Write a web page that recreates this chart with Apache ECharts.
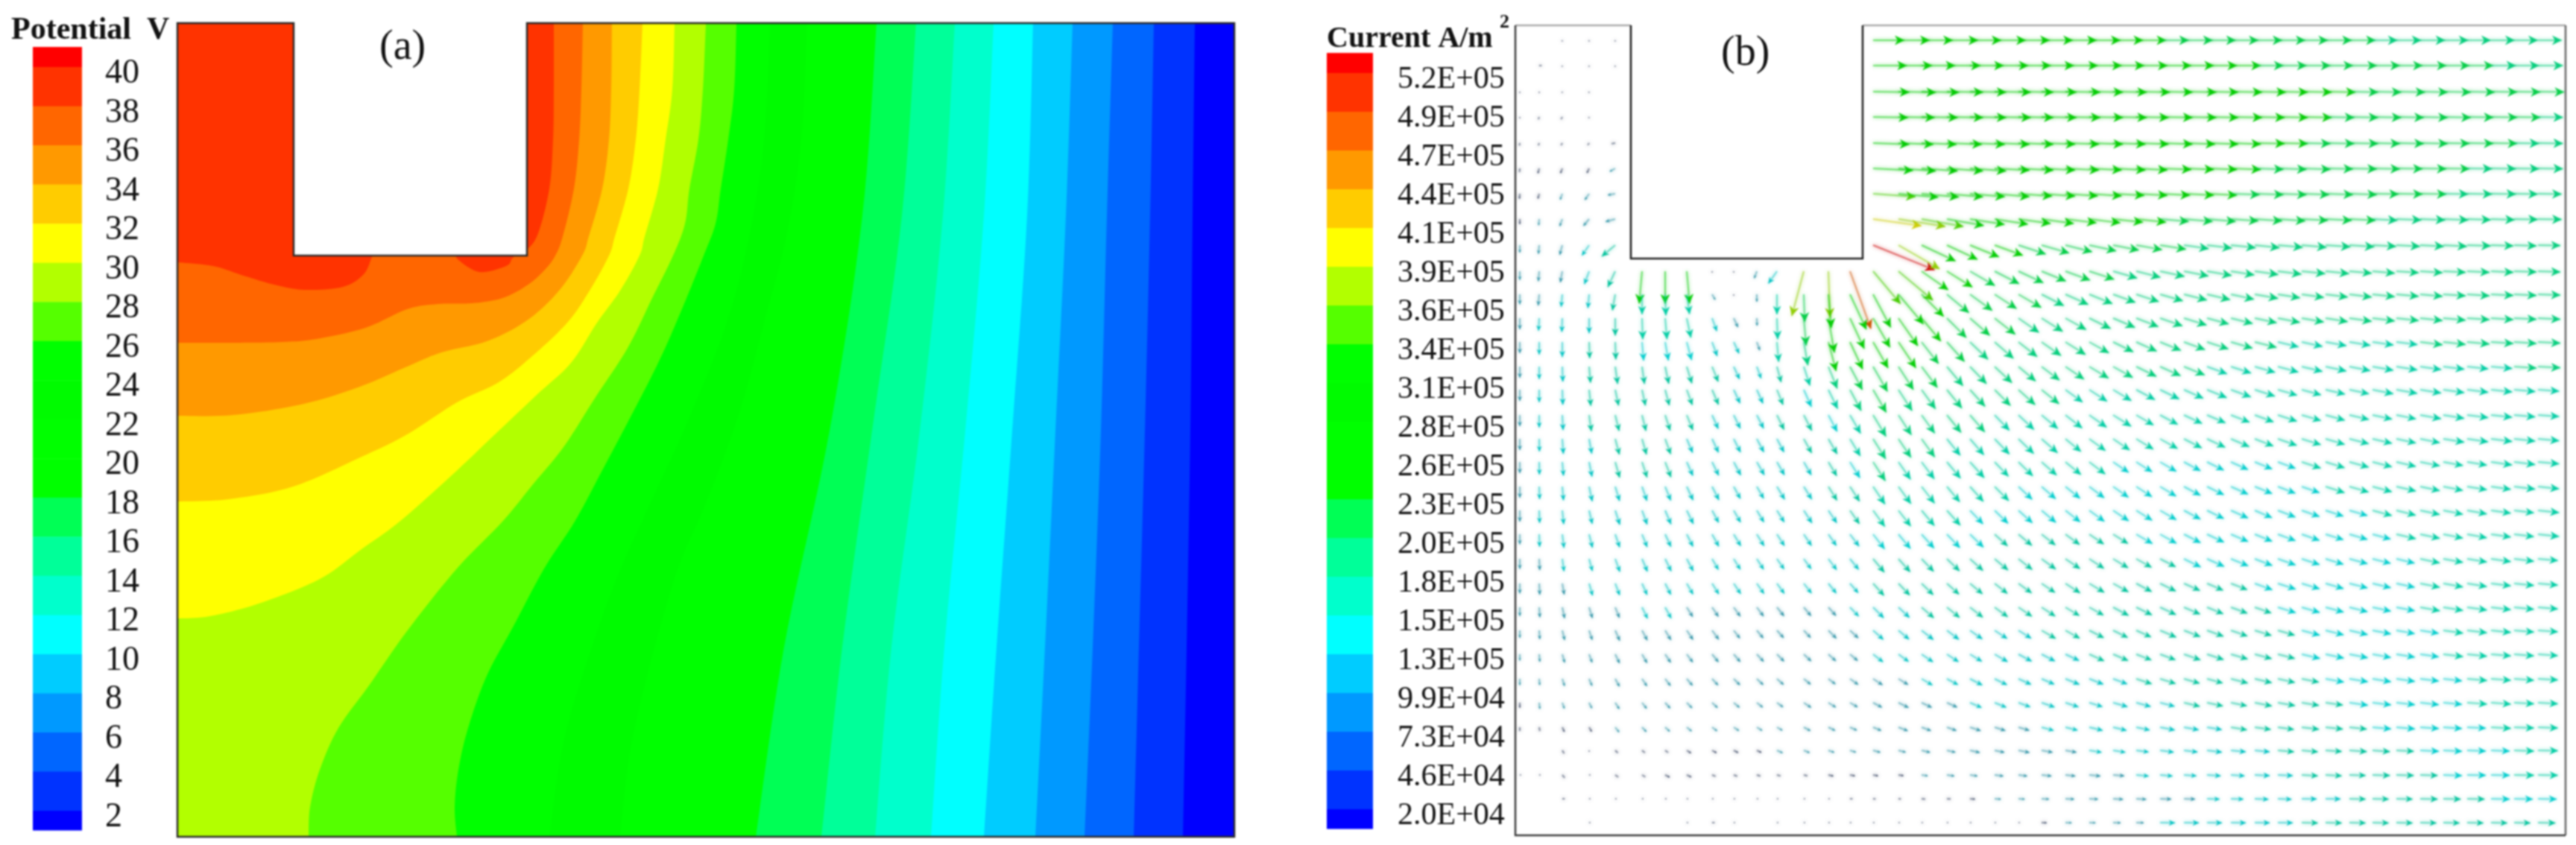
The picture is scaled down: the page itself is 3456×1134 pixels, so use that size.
<!DOCTYPE html>
<html><head><meta charset="utf-8">
<style>html,body{margin:0;padding:0;background:#fff}#c{width:3456px;height:1134px;filter:blur(0.8px)}</style>
<script src="https://cdn.jsdelivr.net/npm/echarts@6/dist/echarts.min.js"></script>
</head><body><div id="c"></div>
<script>
// Colour scale shared by both panels (top of legend to bottom)
const bandColors = ['#ff0000','#ff3300','#ff6600','#ff9900','#ffcc00','#ffff00','#b2ff00','#55ff00','#00ff00','#00fb00','#00ff00','#00ff00','#00ff55','#00ff99','#00ffcc','#00ffff','#00ccff','#0099ff','#0066ff','#0033ff','#0000ff'];
// Legend (a): potential in V
const potentialTicks = [40,38,36,34,32,30,28,26,24,22,20,18,16,14,12,10,8,6,4,2];
// Legend (b): current density in A/m2
const currentTickLabels = ['5.2E+05','4.9E+05','4.7E+05','4.4E+05','4.1E+05','3.9E+05','3.6E+05','3.4E+05','3.1E+05','2.8E+05','2.6E+05','2.3E+05','2.0E+05','1.8E+05','1.5E+05','1.3E+05','9.9E+04','7.3E+04','4.6E+04','2.0E+04'];
const currentTicks = [520000,493700,467400,441100,414700,388400,362100,335800,309500,283200,256800,230500,204200,177900,151600,125300,98900,72600,46300,20000];

// Panel (a): domain size and slot, in domain units
const fieldW = 1418, fieldH = 1092;
const slotA = {x0:156, x1:469, y1:312};
// Contour lines, each the hot/cold border of one level [x, depth]
const c38 = [[505,0],[505,89],[504,156],[499,222],[484,282],[469,304],[457,309],[449,316],[441,326],[405,334],[375,316],[372,305],[270,305],[262,312],[250,337],[222,354],[171,358],[130,351],[89,339],[48,326],[0,321]];
const c36 = [[544,0],[542,89],[539,156],[532,222],[517,286],[507,312],[492,332],[469,352],[436,369],[395,376],[349,377],[308,384],[252,409],[186,424],[140,428],[69,429],[0,429]];
const c34 = [[583,0],[582,89],[579,156],[570,222],[552,286],[543,312],[512,359],[469,399],[415,427],[354,442],[308,461],[242,489],[165,512],[74,526],[0,527]];
const c32 = [[624,0],[620,89],[615,156],[605,222],[587,286],[579,312],[553,359],[523,402],[477,446],[431,482],[375,509],[308,552],[247,582],[155,622],[68,639],[0,642]];
const c30 = [[667,0],[664,89],[655,156],[645,222],[627,286],[620,312],[594,359],[563,402],[528,456],[482,499],[426,552],[369,606],[298,669],[247,706],[191,746],[109,779],[43,796],[0,799]];
const c28 = [[709,0],[705,89],[699,156],[687,222],[681,269],[665,312],[637,369],[604,436],[561,502],[518,569],[477,619],[436,669],[375,732],[308,816],[257,889],[216,946],[191,1002],[178,1052],[176,1092]];
const c26 = [[750,0],[747,89],[739,156],[729,222],[722,269],[706,312],[676,386],[645,456],[604,536],[569,602],[533,669],[492,732],[451,809],[415,876],[390,946],[377,1002],[372,1052],[375,1092]];
const c24 = [[795,0],[787,156],[767,286],[737,402],[687,529],[637,639],[592,739],[552,849],[517,969],[499,1092]];
const c22 = [[845,0],[837,156],[817,286],[787,402],[752,529],[707,649],[670,736],[632,869],[607,979],[594,1092]];
const c20 = [[938,0],[919,258],[875,547],[814,837],[776,1092]];
const c18 = [[991,0],[972,258],[932,547],[892,837],[864,1092]];
const c16 = [[1043,0],[1027,258],[996,547],[958,837],[936,1092]];
const c14 = [[1095,0],[1082,258],[1057,547],[1029,837],[1011,1092]];
const c12 = [[1148,0],[1140,258],[1120,547],[1099,837],[1082,1092]];
const c10 = [[1201,0],[1192,258],[1178,547],[1164,837],[1151,1092]];
const c8  = [[1255,0],[1247,258],[1239,547],[1228,837],[1217,1092]];
const c6  = [[1310,0],[1305,258],[1298,547],[1290,837],[1283,1092]];
const c4  = [[1365,0],[1362,258],[1359,547],[1354,837],[1349,1092]];
const contours = [c38,c36,c34,c32,c30,c28,c26,c24,c22,c20,c18,c16,c14,c12,c10,c8,c6,c4];
const contourColors = ['#ff6600','#ff9900','#ffcc00','#ffff00','#b2ff00','#55ff00','#00ff00','#00fb00','#00ff00','#00ff55','#00ff99','#00ffcc','#00ffff','#00ccff','#0099ff','#0066ff','#0033ff','#0000ff'];

// Panel (b): domain size, slot and the vector sampling grid
const vecW = 1409, vecH = 1087;
const slotB = {x0:155, x1:466, y1:313};
const colX = [6,32,63,99,134,170,201,230,264,293,324,351,387,420,449,480,514,545,579,610,643,675,706,738,770,802,833,865,897,928,960,992,1023,1055,1087,1119,1150,1182,1214,1245,1277,1309,1340,1372];
const rowY = [20,54,89,123,158,192,226,260,295,330,361,393,425,458,489,523,555,586,619,651,683,716,749,781,812,844,877,909,942,973,1006,1038,1070];
// Vector direction, degrees clockwise from +x
const angle = [
[90,90,100,100,100, 0,0,0,0,0,0,0,0,0,0, 0,0,0,0,0,0,0,0,0,0,0,0,0,0,0,0,0,0,0,0,0,0,0,0,0,0,0,0,0],
[90,0,100,100,100, 0,0,0,0,0,0,0,0,0,0, 0,0,0,0,0,0,0,0,0,0,0,0,0,0,0,0,0,0,0,0,0,0,0,0,0,0,0,0,0],
[90,90,100,110,0, 0,0,0,0,0,0,0,0,0,0, 1,1,1,1,1,1,1,1,1,1,1,1,1,1,1,1,1,1,1,1,1,1,1,1,1,1,1,1,1],
[90,110,120,110,0, 0,0,0,0,0,0,0,0,0,0, 1,1,1,1,1,1,1,1,1,1,1,1,1,1,1,1,1,1,1,1,1,1,1,1,1,1,1,1,1],
[100,110,120,125,170, 0,0,0,0,0,0,0,0,0,0, 2,2,2,2,2,2,2,2,2,2,2,2,2,2,2,2,1,1,1,1,1,1,1,1,1,1,1,1,1],
[95,105,110,115,150, 0,0,0,0,0,0,0,0,0,0, 3,4,4,4,4,3,3,3,3,3,3,3,2,2,2,2,2,2,2,1,1,1,1,1,1,1,1,1,1],
[95,105,110,125,170, 0,0,0,0,0,0,0,0,0,0, 4,5,5,5,5,5,4,4,4,4,3,3,3,3,3,2,2,2,2,2,2,1,1,1,1,1,1,1,1],
[90,95,110,130,165, 0,0,0,0,0,0,0,0,0,0, 8,9,10,10,9,9,8,8,7,7,6,6,5,5,5,4,4,4,3,3,3,3,2,2,2,2,2,1,1],
[90,95,105,125,140, 0,0,0,0,0,0,0,0,0,0, 22,30,25,25,22,20,18,16,14,12,11,10,9,8,7,6,6,5,5,4,4,3,3,3,3,2,2,2,1],
[90,95,100,110,115, 95,90,85,90,90,110,125,105,88,70, 50,40,35,32,30,27,25,22,20,18,16,14,12,11,10,9,8,7,6,6,5,5,4,4,3,3,3,2,2],
[90,95,95,95,100, 90,88,82,60,90,90,90,88,85,65, 62,50,45,40,36,33,30,27,24,22,20,18,16,14,13,12,10,9,8,7,7,6,5,5,4,4,3,3,2],
[90,93,92,90,90, 88,85,78,70,65,88,88,85,80,65, 60,55,50,45,41,38,35,32,29,26,23,21,19,17,15,14,12,11,10,9,8,7,6,6,5,4,4,3,3],
[90,90,90,88,88, 85,80,75,70,65,70,85,80,75,65, 60,56,52,48,44,41,38,35,32,29,26,24,22,20,18,16,14,13,12,10,9,8,7,7,6,5,4,4,3],
[90,90,88,85,82, 82,78,73,68,65,70,75,72,68,62, 60,57,53,50,46,43,40,37,34,31,29,26,24,22,20,18,16,15,13,12,11,10,9,8,7,6,5,4,3],
[90,90,88,84,78, 78,75,70,67,65,66,68,66,64,62, 60,57,54,51,48,45,42,39,36,33,31,28,26,24,22,20,18,16,15,13,12,11,10,9,8,7,6,5,4],
[90,90,87,82,76, 76,72,68,66,64,63,64,63,62,60, 59,57,54,51,49,46,43,40,38,35,32,30,28,25,23,21,20,18,16,15,13,12,11,10,9,7,6,5,4],
[90,89,86,80,75, 74,70,67,65,63,62,62,61,60,59, 58,56,54,51,49,46,44,41,39,36,34,31,29,27,25,23,21,19,17,16,14,13,12,11,9,8,7,6,5],
[90,89,85,79,74, 72,69,66,64,62,60,60,60,59,58, 57,55,53,50,48,46,44,41,39,37,34,32,30,28,26,24,22,20,18,17,15,14,13,11,10,9,8,7,5],
[90,88,85,78,73, 71,68,65,63,61,60,59,58,58,57, 56,54,52,50,48,45,43,41,39,37,35,33,31,28,26,24,22,21,19,18,16,15,13,12,11,9,8,7,6],
[90,88,84,77,72, 70,67,64,62,60,59,58,57,56,55, 54,52,50,48,46,44,42,40,38,36,34,32,30,28,26,24,23,21,19,18,16,15,14,12,11,10,8,7,6],
[90,88,83,76,71, 68,65,63,61,59,58,57,56,55,53, 52,50,48,46,44,42,40,38,36,34,32,30,29,27,25,23,22,20,19,17,16,15,13,12,11,10,8,7,6],
[90,87,82,75,70, 67,64,62,60,58,57,55,54,53,51, 50,48,46,44,42,40,38,36,34,33,31,29,27,26,24,22,21,19,18,17,15,14,13,12,10,9,8,7,5],
[90,87,80,74,69, 66,63,60,58,56,55,54,52,51,49, 48,46,44,42,40,38,36,34,33,31,29,28,26,24,23,21,20,18,17,16,14,13,12,11,10,9,7,6,5],
[90,86,78,73,68, 64,61,58,56,54,53,51,50,48,46, 45,43,41,39,38,36,34,33,31,29,28,26,25,23,22,20,19,17,16,15,14,12,11,10,9,8,7,6,5],
[90,86,76,72,66, 62,59,56,54,52,50,48,47,45,43, 42,40,38,37,35,33,32,30,29,27,26,24,23,21,20,19,17,16,15,14,13,11,10,9,8,7,6,5,4],
[90,85,74,70,64, 60,56,53,51,49,47,45,43,42,40, 38,36,34,33,31,30,28,27,25,24,23,21,20,19,18,16,15,14,13,12,11,10,9,8,7,6,5,5,4],
[90,85,72,67,61, 56,52,49,47,45,43,41,39,37,35, 33,31,30,28,27,26,24,23,22,21,20,18,17,16,15,14,13,12,11,10,9,9,8,7,6,5,4,4,3],
[90,84,70,64,57, 52,48,45,43,40,38,36,34,32,30, 28,26,25,24,23,22,20,19,18,17,16,15,14,13,12,11,11,10,9,8,8,7,6,6,5,4,4,3,3],
[90,80,65,60,52, 46,42,39,36,34,32,30,28,26,24, 22,21,20,19,18,17,16,15,14,13,13,12,11,10,9,9,8,8,7,6,6,5,5,4,4,3,3,2,2],
[90,90,60,90,45, 40,36,33,30,28,26,24,22,20,18, 16,15,14,13,13,12,11,10,10,9,9,8,8,7,7,6,6,5,5,4,4,4,3,3,3,2,2,2,1],
[0,0,50,0,35, 30,27,25,22,20,18,16,14,13,11, 10,9,9,8,8,7,7,6,6,6,5,5,5,4,4,4,3,3,3,3,2,2,2,2,2,1,1,1,1],
[0,0,0,0,0, 0,0,0,0,0,0,0,0,0,0, 5,5,5,4,4,4,4,3,3,3,3,3,2,2,2,2,2,2,1,1,1,1,1,1,1,1,1,1,1],
[0,0,0,0,0, 0,0,0,0,0,0,0,0,0,0, 0,0,0,0,0,0,0,2,2,2,2,1,1,1,1,1,1,1,1,1,1,1,1,1,1,1,1,1,1]
];
// Vector magnitude, in units of 1E+04 A/m2
const magnitude = [
[0,0,1,1,1, 0,0,0,0,0,0,0,0,0,0, 25,25,25,25,25,25,25,25,25,25,24,24,23,23,23,22,22,22,21,21,21,20,20,20,20,19,19,19,19],
[0,2,1,1,1, 0,0,0,0,0,0,0,0,0,0, 27,27,27,27,27,27,26,26,26,26,25,25,25,24,24,24,23,23,23,22,22,22,21,21,21,21,20,20,20],
[1,1,1,1,0, 0,0,0,0,0,0,0,0,0,0, 29,30,30,29,29,29,28,28,28,27,27,27,26,26,25,25,25,24,24,24,23,23,23,22,22,22,21,21,21],
[1,2,2,1,0, 0,0,0,0,0,0,0,0,0,0, 28,29,29,29,29,29,28,28,28,27,27,26,26,26,25,25,24,24,24,23,23,23,22,22,22,21,21,21,20],
[2,2,2,2,3, 0,0,0,0,0,0,0,0,0,0, 29,28,28,28,28,28,28,27,27,27,26,26,26,25,25,24,24,24,23,23,23,22,22,22,21,21,21,20,20],
[3,4,4,4,5, 0,0,0,0,0,0,0,0,0,0, 32,30,29,29,29,28,28,27,27,26,26,25,25,24,24,24,23,23,23,22,22,22,21,21,21,20,20,20,20],
[4,4,5,6,6, 0,0,0,0,0,0,0,0,0,0, 34,32,30,29,28,28,27,27,26,26,25,25,24,24,24,23,23,23,22,22,22,21,21,21,20,20,20,19,19],
[4,5,6,7,8, 0,0,0,0,0,0,0,0,0,0, 39,38,34,30,28,27,26,26,25,25,24,24,23,23,23,22,22,22,21,21,21,20,20,20,20,19,19,19,19],
[6,7,8,10,14, 0,0,0,0,0,0,0,0,0,0, 53,38,30,27,25,24,23,23,22,22,21,21,21,20,20,20,20,20,20,20,20,19,19,19,19,19,18,18,18],
[7,8,9,11,14, 26,26,26,1,1,6,12,37,37,49, 34,36,26,24,23,22,22,21,21,21,20,20,20,20,20,19,19,19,19,19,18,18,18,18,18,18,18,18,18],
[8,9,10,11,13, 16,17,16,5,1,6,16,22,27,31, 30,31,25,23,22,21,21,20,20,20,19,19,19,19,19,19,19,18,18,18,18,18,18,18,18,18,18,18,18],
[9,10,11,12,14, 17,17,16,11,8,6,17,22,28,27, 27,27,24,22,21,21,20,20,19,19,19,19,19,19,18,18,18,18,18,18,18,18,18,18,18,18,18,18,18],
[9,10,12,13,14, 15,15,15,12,10,7,16,19,24,24, 24,25,22,21,20,20,19,19,19,18,18,18,18,18,18,18,18,17,17,17,17,17,17,18,18,18,18,18,18],
[9,10,12,13,14, 14,14,14,13,11,10,13,16,19,21, 23,22,21,20,19,19,18,18,18,18,18,18,18,18,17,17,17,17,17,17,17,17,17,17,17,17,17,18,18],
[9,10,12,13,13, 13,13,13,13,12,12,13,15,17,19, 21,20,19,19,18,18,18,18,17,17,17,17,17,17,17,17,17,16,16,16,16,17,17,17,17,17,17,17,17],
[9,10,12,13,13, 13,13,13,12,12,12,13,14,15,17, 20,19,18,18,18,17,17,17,17,17,17,16,16,16,16,16,16,16,16,16,16,16,16,17,17,17,17,17,17],
[9,10,12,12,13, 13,13,12,12,12,12,12,13,14,16, 19,18,18,17,17,17,17,17,16,16,16,16,16,16,16,16,16,16,16,16,16,16,16,16,17,17,17,17,17],
[9,10,11,12,13, 13,13,12,12,12,12,12,12,13,15, 18,17,17,17,17,16,16,16,16,16,15,15,15,15,15,15,15,15,16,16,16,16,16,16,16,16,17,17,17],
[9,10,11,12,12, 12,12,12,12,11,11,12,12,13,14, 17,17,17,16,16,16,15,15,15,15,15,15,15,15,15,15,15,15,15,16,16,16,16,16,16,16,16,17,17],
[9,10,11,11,12, 12,12,12,11,11,11,11,12,12,13, 16,16,16,16,15,15,15,15,15,15,15,15,15,15,15,15,15,15,15,15,15,16,16,16,16,16,16,16,17],
[8,10,11,11,11, 11,11,11,11,11,11,11,11,11,12, 15,15,15,15,15,14,14,14,14,14,14,15,15,15,15,15,15,15,15,15,15,15,16,16,16,16,16,16,17],
[8,9,10,10,11, 11,11,11,10,10,10,10,10,11,11, 14,14,14,14,14,14,14,14,14,14,14,14,14,15,15,15,15,15,15,15,15,15,15,16,16,16,16,16,16],
[8,9,9,10,10, 10,10,10,10,10,10,10,10,10,10, 13,13,13,13,13,13,13,13,14,14,14,14,14,14,14,14,15,15,15,15,15,15,15,16,16,16,16,16,16],
[7,8,9,9,9, 10,10,9,9,9,9,9,9,9,10, 12,12,13,13,13,13,13,13,13,13,14,14,14,14,14,14,14,15,15,15,15,15,15,16,16,16,16,16,16],
[6,7,8,8,9, 9,9,9,9,8,8,8,8,9,9, 11,11,12,12,12,12,12,13,13,13,13,13,14,14,14,14,14,14,15,15,15,15,15,15,16,16,16,16,16],
[5,6,7,7,8, 8,8,8,8,8,8,8,8,8,8, 10,10,11,11,11,12,12,12,12,13,13,13,13,14,14,14,14,14,15,15,15,15,15,15,16,16,16,16,16],
[5,5,6,6,7, 7,7,7,7,7,7,7,7,7,8, 9,9,10,10,11,11,11,11,12,12,12,13,13,13,13,14,14,14,14,15,15,15,15,15,15,16,16,16,16],
[4,5,5,5,6, 6,6,6,6,6,6,6,7,7,7, 8,9,9,9,10,10,10,11,11,11,12,12,12,13,13,13,14,14,14,14,15,15,15,15,15,16,16,16,16],
[3,3,4,4,5, 5,5,5,5,5,5,5,6,6,6, 7,8,8,8,9,9,9,10,10,11,11,11,12,12,12,13,13,13,14,14,14,15,15,15,15,15,16,16,16],
[0,0,3,1,3, 3,3,4,4,4,4,5,5,5,5, 6,6,7,7,8,8,9,9,9,10,10,10,11,11,12,12,12,13,13,13,14,14,14,15,15,15,15,16,16],
[1,1,3,1,3, 3,4,4,3,3,3,3,3,4,4, 4,4,5,6,6,7,7,8,8,9,9,10,10,10,11,11,12,12,13,13,13,14,14,14,15,15,15,16,16],
[0,0,2,1,1, 1,1,1,1,1,1,1,1,1,2, 2,2,3,3,4,5,5,6,7,7,8,8,9,9,10,10,11,11,12,12,13,13,13,14,14,14,15,15,15],
[0,0,0,1,0, 0,0,1,2,1,0,1,1,1,1, 1,1,1,1,1,1,1,4,5,5,6,6,12,12,12,12,12,12,13,13,13,13,13,13,13,13,13,13,14]
];

const SERIF = '"Liberation Serif","Times New Roman",serif';
const INK = '#111';

// ---- helpers
function smoothLine(p){
  const out = [];
  for(let i=0;i<p.length-1;i++){
    const a=p[Math.max(i-1,0)],b=p[i],c=p[i+1],d=p[Math.min(i+2,p.length-1)];
    for(let k=0;k<10;k++){
      const t=k/10,t2=t*t,t3=t2*t;
      out.push([
        .5*(2*b[0]+(c[0]-a[0])*t+(2*a[0]-5*b[0]+4*c[0]-d[0])*t2+(3*b[0]-a[0]-3*c[0]+d[0])*t3),
        .5*(2*b[1]+(c[1]-a[1])*t+(2*a[1]-5*b[1]+4*c[1]-d[1])*t2+(3*b[1]-a[1]-3*c[1]+d[1])*t3)
      ]);
    }
  }
  out.push(p[p.length-1]);
  return out;
}
function bandFor(v){
  for(let i=0;i<currentTicks.length;i++){ if(v>=currentTicks[i]) return bandColors[i]; }
  return bandColors[bandColors.length-1];
}
function mix(hex,k){
  const n=parseInt(hex.slice(1),16);
  return 'rgb('+[(n>>16)&255,(n>>8)&255,n&255].map(c=>Math.round(c*k)).join(',')+')';
}
function arrowColor(m){
  if(m<50000) return '#2c3a58';          // tiny marks read as dark specks
  if(m<100000) return '#2f93a6';         // thin short arrows read as dull teal
  if(m<150000) return mix(bandFor(m+30000),.76);
  return mix(bandFor(m),.8);
}

// ---- flattened vector data
const vectors = [];
rowY.forEach((y,r)=>colX.forEach((x,c)=>{
  const m=magnitude[r][c];
  if(m>0) vectors.push([x,y,m*1e4,angle[r][c]]);
}));

function legendBands(ticks,offset,top,bottom){
  const edges=[top].concat(ticks.map(t=>t+offset)).concat([bottom]);
  return bandColors.map((col,i)=>[edges[i],edges[i+1],i]);
}
const legendItem = (params,api)=>{
  const a=api.coord([0,api.value(0)]), b=api.coord([1,api.value(1)]);
  return {type:'rect',shape:{x:a[0],y:a[1],width:b[0]-a[0],height:b[1]-a[1]+.5},style:{fill:bandColors[api.value(2)]}};
};
function seg(api,pts,stroke,w){
  return {type:'polyline',shape:{points:pts.map(p=>api.coord(p))},style:{fill:'none',stroke:stroke,lineWidth:w}};
}
const plotAxes = (gi,W,H)=>({
  x:{type:'value',gridIndex:gi,min:0,max:W,show:false},
  y:{type:'value',gridIndex:gi,min:0,max:H,inverse:true,show:false}
});
const pa=plotAxes(0,fieldW,fieldH), pb=plotAxes(1,vecW,vecH);

const option = {
  animation:false,
  backgroundColor:'#fff',
  grid:[
    {left:238,top:31,width:1418,height:1092},
    {left:2033,top:34,width:1409,height:1087},
    {left:44,top:63,width:66,height:1051},
    {left:1780,top:71,width:62,height:1041}
  ],
  xAxis:[pa.x,pb.x,
    {type:'value',gridIndex:2,min:0,max:1,show:false},
    {type:'value',gridIndex:3,min:0,max:1,show:false}],
  yAxis:[pa.y,pb.y,
    {type:'value',gridIndex:2,position:'right',min:1.35,max:41.37,
     axisLine:{show:false},axisTick:{show:false},splitLine:{show:false},
     axisLabel:{customValues:potentialTicks,margin:31,fontFamily:SERIF,fontSize:46,color:INK,padding:[14,0,0,0]}},
    {type:'value',gridIndex:3,position:'right',min:11400,max:538200,
     axisLine:{show:false},axisTick:{show:false},splitLine:{show:false},
     axisLabel:{customValues:currentTicks,margin:33,fontFamily:SERIF,fontSize:42,color:INK,
       formatter:v=>currentTickLabels[currentTicks.indexOf(v)]}}
  ],
  series:[
    { // Panel (a): filled contour bands
      type:'custom',name:'Potential',xAxisIndex:0,yAxisIndex:0,silent:true,clip:true,z:2,
      data:[-1].concat(contours.map((c,i)=>i)).map(i=>[i]),
      encode:{x:-1,y:-1},
      renderItem:(params,api)=>{
        const i=api.value(0);
        if(i<0) return {type:'polygon',shape:{points:[[0,0],[fieldW,0],[fieldW,fieldH],[0,fieldH]].map(p=>api.coord(p))},style:{fill:'#ff3300'}};
        const c=contours[i];
        let pts=smoothLine(c.map(p=>api.coord(p)));
        if(c[c.length-1][0]===0) pts=pts.concat([api.coord([0,fieldH])]);
        pts=pts.concat([api.coord([fieldW,fieldH]),api.coord([fieldW,0])]);
        return {type:'polygon',shape:{points:pts},style:{fill:contourColors[i]}};
      }
    },
    { // Panel (a): slot and frame
      type:'custom',name:'Frame a',xAxisIndex:0,yAxisIndex:0,silent:true,clip:false,z:3,
      data:[[0]],encode:{x:-1,y:-1},
      renderItem:(params,api)=>({type:'group',children:[
        {type:'rect',shape:(()=>{const a=api.coord([slotA.x0,0]),b=api.coord([slotA.x1,slotA.y1]);return {x:a[0],y:a[1]-3,width:b[0]-a[0],height:b[1]-a[1]+3};})(),style:{fill:'#fff'}},
        {type:'polygon',shape:{points:[[0,0],[slotA.x0,0],[slotA.x0,slotA.y1],[slotA.x1,slotA.y1],[slotA.x1,0],[fieldW,0],[fieldW,fieldH],[0,fieldH]].map(p=>api.coord(p))},style:{fill:'none',stroke:'#2a2a2a',lineWidth:2.5}}
      ]})
    },
    { // Panel (b): current density vectors
      type:'custom',name:'Current',xAxisIndex:1,yAxisIndex:1,silent:true,clip:true,z:2,
      data:vectors,encode:{x:0,y:1},
      renderItem:(params,api)=>{
        const x=api.value(0),y=api.value(1),m=api.value(2),deg=api.value(3)*Math.PI/180;
        const len=m/1e4*1.68;
        const a=api.coord([x,y]);
        const ca=Math.cos(deg),sa=Math.sin(deg);
        const b=api.coord([x+len*ca,y+len*sa]);
        const col=arrowColor(m);
        const kids=[{type:'line',shape:{x1:a[0],y1:a[1],x2:b[0],y2:b[1]},
          style:{stroke:col,lineWidth:2,opacity:.5,shadowBlur:5,shadowColor:col}}];
        if(len>6){
          const h=Math.min(13,len*.42), w=Math.min(6.5,len*.2);
          kids.push({type:'polygon',shape:{points:[[b[0],b[1]],[b[0]-h*ca-w*sa,b[1]-h*sa+w*ca],[b[0]-.7*h*ca,b[1]-.7*h*sa],[b[0]-h*ca+w*sa,b[1]-h*sa-w*ca]]},style:{fill:col,opacity:.95}});
        }
        return {type:'group',children:kids};
      }
    },
    { // Panel (b): frame
      type:'custom',name:'Frame b',xAxisIndex:1,yAxisIndex:1,silent:true,clip:false,z:3,
      data:[[0]],encode:{x:-1,y:-1},
      renderItem:(params,api)=>({type:'group',children:[
        seg(api,[[0,0],[slotB.x0,0]],'#aaaaaa',2.5),
        seg(api,[[slotB.x1,0],[vecW,0]],'#aaaaaa',2.5),
        seg(api,[[slotB.x0,0],[slotB.x0,slotB.y1],[slotB.x1,slotB.y1],[slotB.x1,0]],'#1c1c1c',2.5),
        seg(api,[[vecW,0],[vecW,vecH]],'#666666',2.5),
        seg(api,[[vecW,vecH],[0,vecH],[0,0]],'#3a3a3a',2.5)
      ]})
    },
    { type:'custom',name:'Legend a',xAxisIndex:2,yAxisIndex:2,silent:true,z:2,
      data:legendBands(potentialTicks,.34,41.37,1.35),encode:{x:-1,y:-1},renderItem:legendItem },
    { type:'custom',name:'Legend b',xAxisIndex:3,yAxisIndex:3,silent:true,z:2,
      data:legendBands(currentTicks,4555,538200,11400),encode:{x:-1,y:-1},renderItem:legendItem }
  ],
  graphic:[
    {type:'text',left:15,top:20,z:10,style:{text:'Potential  V',font:'bold 42px '+SERIF,fill:INK}},
    {type:'text',left:1780,top:33,z:10,style:{text:'Current A/m',font:'bold 40px '+SERIF,fill:INK}},
    {type:'text',left:2012,top:17,z:10,style:{text:'2',font:'bold 26px '+SERIF,fill:INK}},
    {type:'text',left:509,top:36,z:10,style:{text:'(a)',font:'56px '+SERIF,fill:INK}},
    {type:'text',left:2309,top:44,z:10,style:{text:'(b)',font:'56px '+SERIF,fill:INK}}
  ]
};
echarts.init(document.getElementById('c'),null,{renderer:'canvas'}).setOption(option);
</script></body></html>
